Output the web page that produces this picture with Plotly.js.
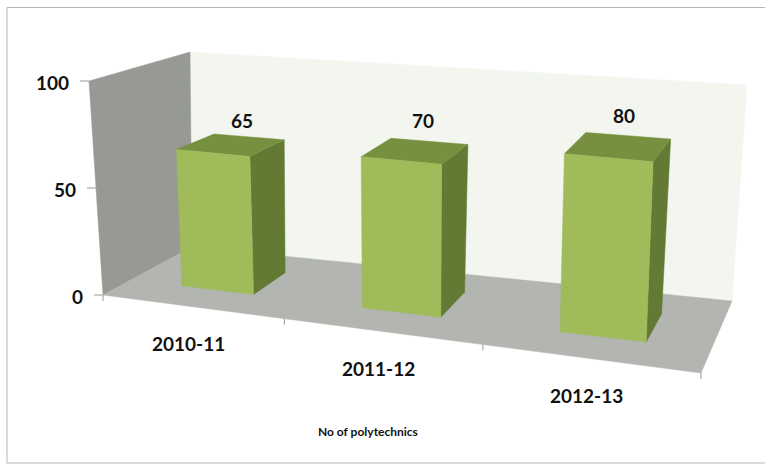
<!DOCTYPE html>
<html><head><meta charset="utf-8">
<script src="https://cdn.plot.ly/plotly-3.0.1.min.js"></script>
<style>html,body{margin:0;padding:0;background:#fff}</style></head>
<body><div id="c" style="width:765px;height:465px"></div>
<script>
var categories=["2010-11","2011-12","2012-13"];
var values=[65,70,80];
var ticks=[0,50,100];
var axisTitle="No of polytechnics";
var labelNudge=[-5,0,0];
var colors={front:'#9fbb5a',side:'#637a35',top:'#76903f',wall:'#979a94',floor:'#b2b5b0',back:'#f2f6ef',tick:'#999999',text:'#111111'};

// picture position of the eight corners of the chart box (perspective view)
var corners={
  fl0:[103,295],fr0:[701,373],bl0:[192,247],br0:[732,301],
  fl1:[89,81],fr1:[710,140],bl1:[190,52],br1:[747,85]
};
var perspective=1.148, barHalf=0.068, barFront=0.32, barBack=0.73;
function mix(a,b,t){return [a[0]+(b[0]-a[0])*t,a[1]+(b[1]-a[1])*t];}
function project(u,v,value){
  var w=u/(u+perspective*(1-u)), z=value/100;
  var bottom=mix(mix(corners.fl0,corners.fr0,w),mix(corners.bl0,corners.br0,w),v);
  var top=mix(mix(corners.fl1,corners.fr1,w),mix(corners.bl1,corners.br1,w),v);
  return mix(bottom,top,z);
}
var traces=[];
function face(points,color){
  var p=points.map(function(q){return project(q[0],q[1],q[2]);});
  p.push(p[0]);
  traces.push({type:'scatter',mode:'lines',x:p.map(function(q){return q[0];}),y:p.map(function(q){return q[1];}),
    fill:'toself',fillcolor:color,line:{color:color,width:0.5},hoverinfo:'skip'});
}
function seg(a,b){
  traces.push({type:'scatter',mode:'lines',x:[a[0],b[0]],y:[a[1],b[1]],line:{color:colors.tick,width:1},hoverinfo:'skip'});
}
face([[0,1,0],[1,1,0],[1,1,100],[0,1,100]],colors.back);
face([[0,0,0],[0,1,0],[0,1,100],[0,0,100]],colors.wall);
face([[0,0,0],[1,0,0],[1,1,0],[0,1,0]],colors.floor);
values.forEach(function(v,n){
  var c=(n+0.5)/values.length,a=c-barHalf,b=c+barHalf,f=barFront,g=barBack;
  face([[b,f,0],[b,g,0],[b,g,v],[b,f,v]],colors.side);
  face([[a,f,v],[b,f,v],[b,g,v],[a,g,v]],colors.top);
  face([[a,f,0],[b,f,0],[b,f,v],[a,f,v]],colors.front);
});
ticks.forEach(function(t){var p=project(0,0,t);seg([p[0]-9,p[1]],p);});
for(var i=0;i<=categories.length;i++){var q=project(i/categories.length,0,0);seg(q,[q[0],q[1]+6]);}

var font={family:'Lato, sans-serif',size:19,color:colors.text};
function label(p,text,o){
  return Object.assign({xref:'x',yref:'y',x:p[0],y:p[1],text:'<b>'+text+'</b>',showarrow:false,font:font},o||{});
}
var anns=[];
values.forEach(function(v,n){anns.push(label(project((n+0.5)/values.length,0.62,v),String(v),{xshift:n===0?3:1,yshift:26+labelNudge[n]}));});
categories.forEach(function(t,n){anns.push(label(project((n+0.5)/categories.length,0,0),t,{xshift:-3,yshift:-37}));});
ticks.forEach(function(t){anns.push(label(project(0,0,t),String(t),{xanchor:'right',xshift:-18,yshift:-1}));});
anns.push({xref:'x',yref:'y',x:367.5,y:431,text:'<b>'+axisTitle+'</b>',showarrow:false,font:{family:'Lato, sans-serif',size:12,color:colors.text}});

var hidden={visible:false,showgrid:false,zeroline:false,fixedrange:true};
var layout={width:765,height:465,margin:{l:0,r:0,t:0,b:0,pad:0},paper_bgcolor:'#fff',plot_bgcolor:'#fff',showlegend:false,
 xaxis:Object.assign({range:[0,765]},hidden),yaxis:Object.assign({range:[465,0]},hidden),annotations:anns,
 shapes:[{type:'rect',xref:'x',yref:'y',x0:7,x1:800,y0:7.5,y1:463,line:{color:'#b5b5b5',width:1},layer:'below'}]};
Plotly.newPlot('c',traces,layout,{displayModeBar:false,staticPlot:true});
</script></body></html>
